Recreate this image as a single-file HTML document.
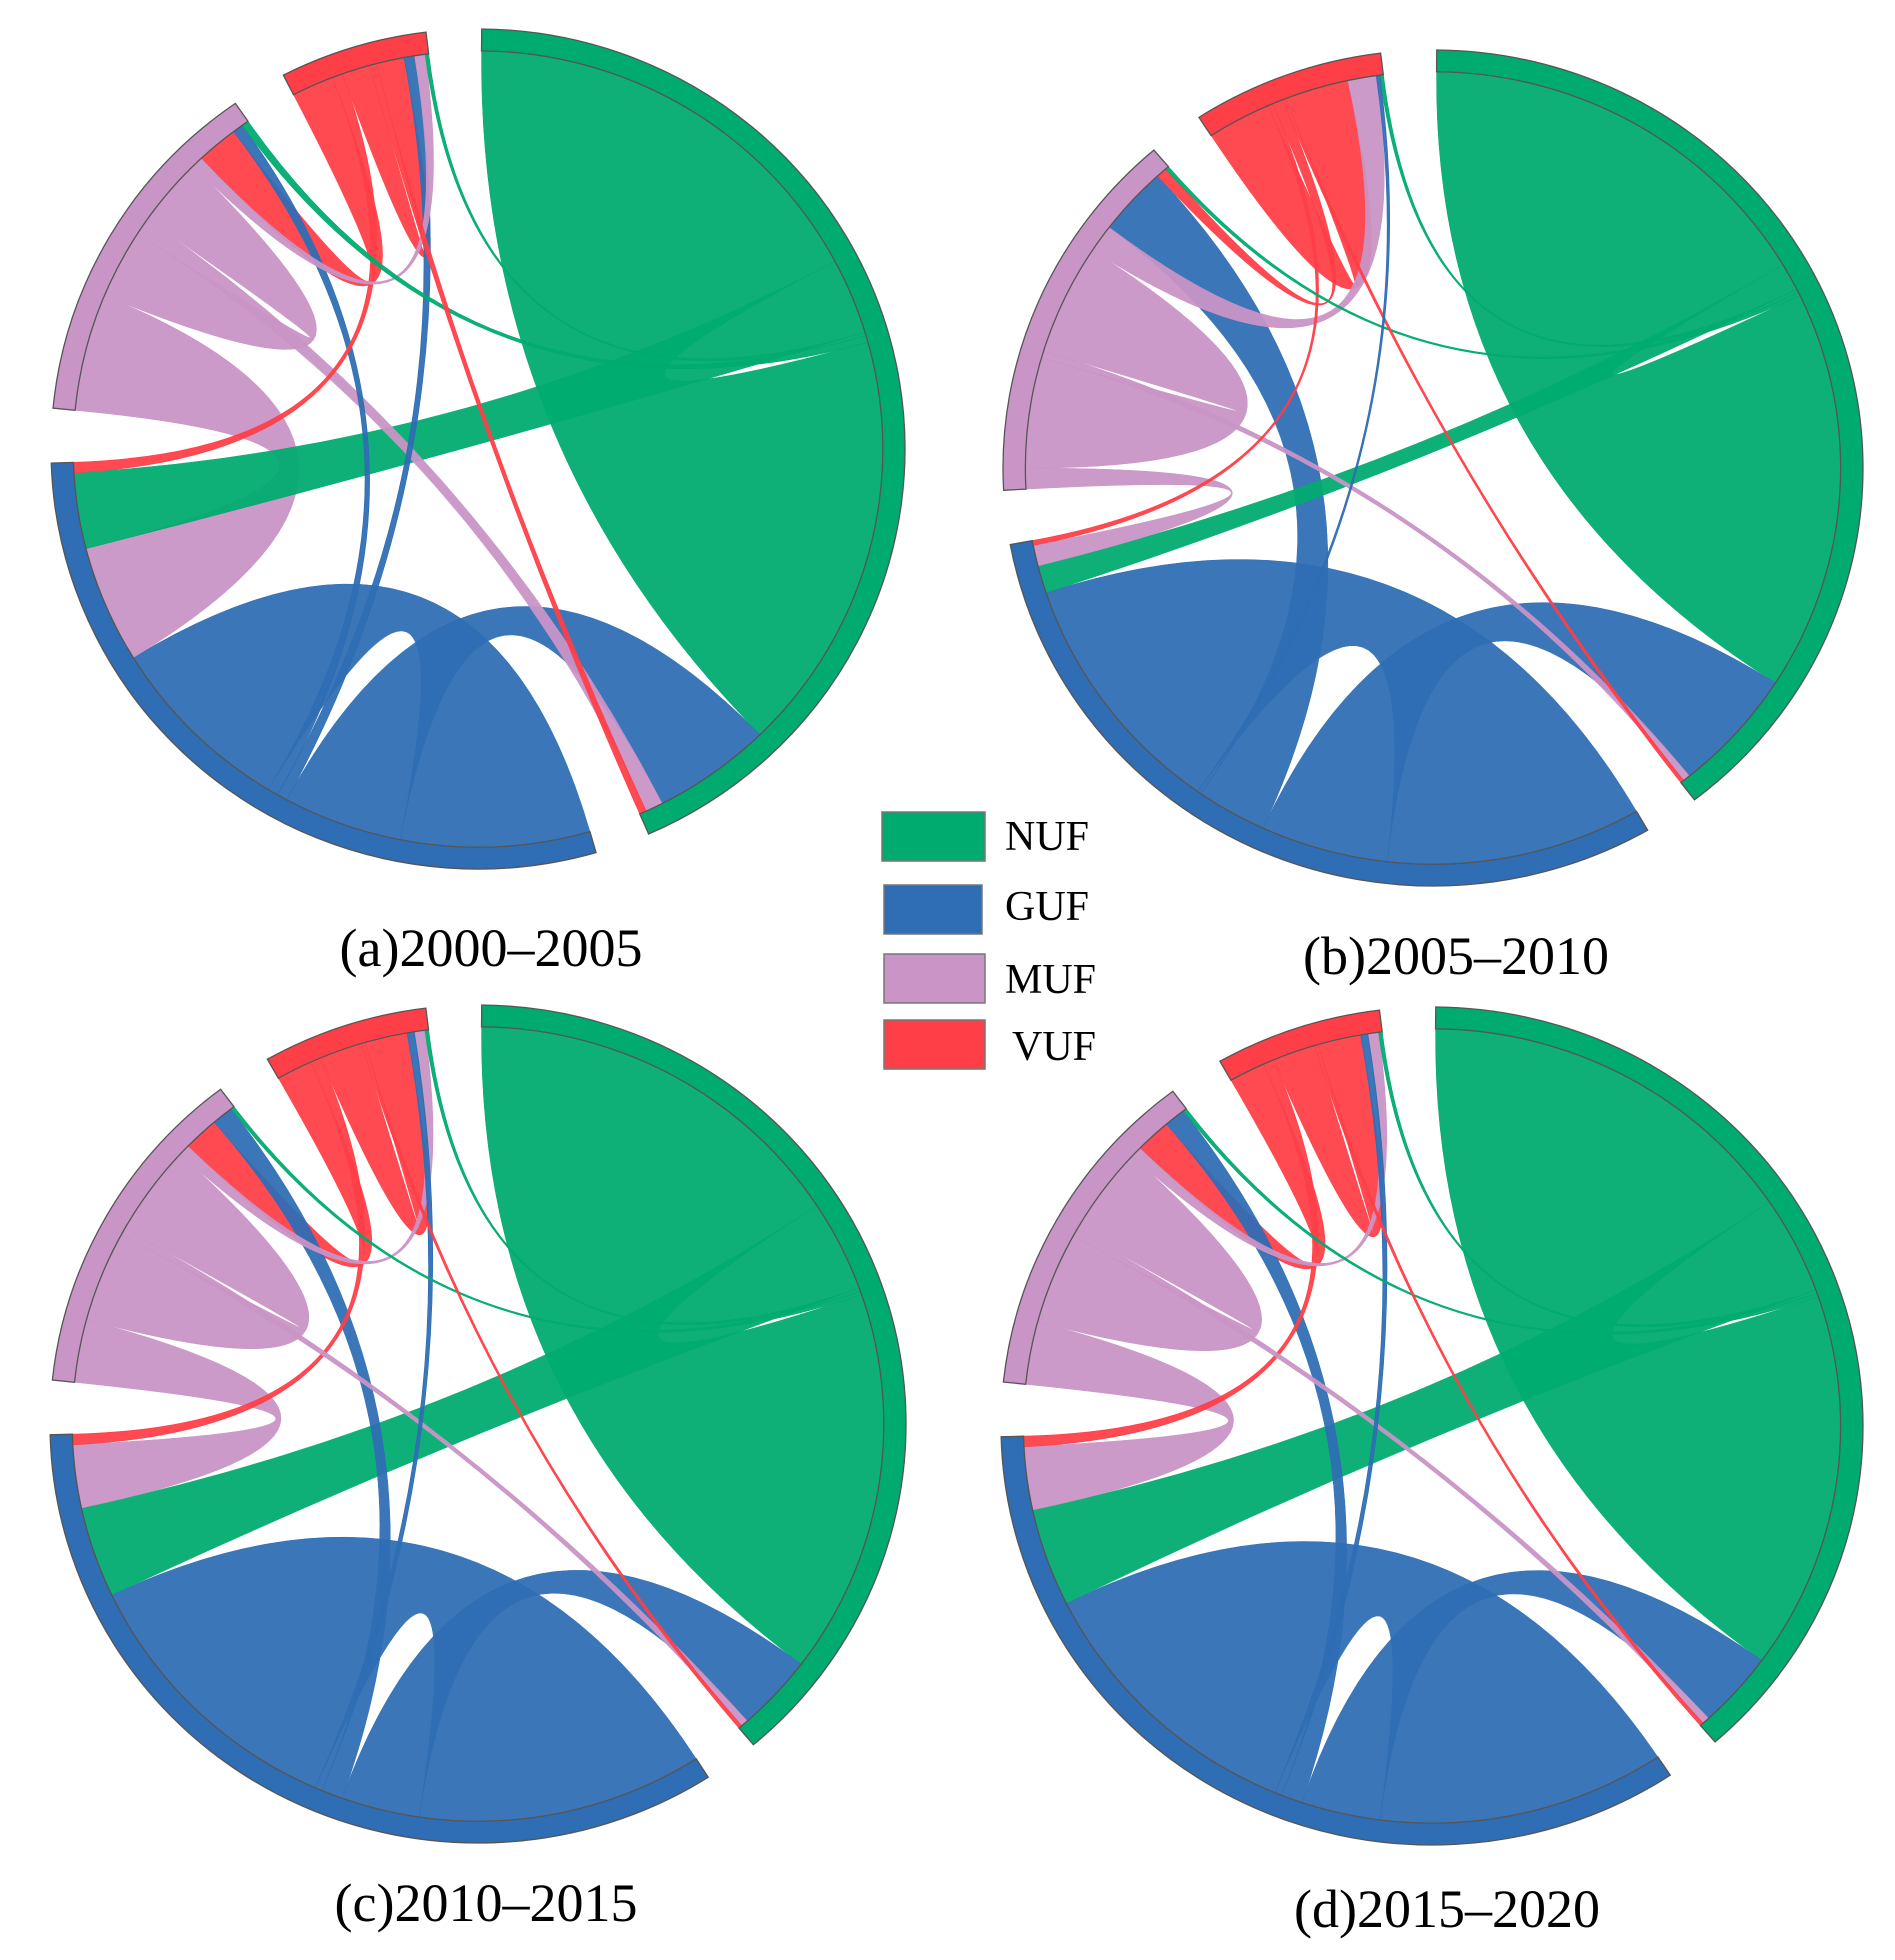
<!DOCTYPE html>
<html><head><meta charset="utf-8"><title>Urban form transitions</title>
<style>
html,body{margin:0;padding:0;background:#fff;}
#wrap{position:relative;width:1895px;height:1960px;overflow:hidden;}
svg{position:absolute;left:0;top:0;}
text{font-family:"Liberation Serif",serif;fill:#000;}
</style></head>
<body>
<div id="wrap">
<svg id="fig" width="1895" height="1960" viewBox="0 0 1895 1960">
  <g id="legend">
    <g>
      <rect x="882" y="812" width="103" height="49" fill="#00ab6f" stroke="#777" stroke-width="1.5"/>
      <text x="1005" y="850" font-size="42">NUF</text>
    </g>
    <g>
      <rect x="884" y="885" width="98" height="49" fill="#2f6db4" stroke="#777" stroke-width="1.5"/>
      <text x="1005" y="920" font-size="42">GUF</text>
    </g>
    <g>
      <rect x="884" y="954" width="101" height="49" fill="#c994c6" stroke="#777" stroke-width="1.5"/>
      <text x="1005" y="993" font-size="42">MUF</text>
    </g>
    <g>
      <rect x="884" y="1020" width="101" height="49" fill="#ff3f47" stroke="#777" stroke-width="1.5"/>
      <text x="1012" y="1060" font-size="42">VUF</text>
    </g>
  </g>
  <text x="491" y="966" font-size="54" text-anchor="middle">(a)2000–2005</text>
  <text x="1456" y="974" font-size="54" text-anchor="middle">(b)2005–2010</text>
  <text x="486" y="1921" font-size="54" text-anchor="middle">(c)2010–2015</text>
  <text x="1447" y="1927" font-size="54" text-anchor="middle">(d)2015–2020</text>
</svg>
</div>
<script>
// ---- data ----
const groups = ["NUF", "GUF", "MUF", "VUF"];
const groupColors = ["#00ab6f", "#2f6db4", "#c994c6", "#ff3f47"];
// links: from group index, to group index (same structure in all periods)
const linkFrom = [0, 0, 0, 0, 1, 2, 3, 1, 1, 1, 2, 3, 2, 2, 3, 3];
const linkTo   = [0, 1, 3, 2, 0, 0, 0, 1, 3, 2, 1, 1, 2, 3, 2, 3];
// transition amounts per period
const valuesA = [61, 11, 0.5, 1, 17, 2.5, 1, 27, 1.5, 1.5, 17, 1.5, 10, 1.5, 6, 4];
const valuesB = [58, 4, 0.5, 0.5, 18, 1, 0.5, 36, 0.5, 10, 3, 0.7, 16, 4, 1.5, 9];
const valuesC = [55, 13, 0.5, 0.5, 11, 1, 0.5, 40, 1, 3, 9, 1.5, 13, 1.5, 5, 6];
const valuesD = [54, 14, 0.5, 0.5, 11, 1, 0.5, 40, 1, 3, 9, 1.5, 13, 1.5, 5, 6];
// order of link ends within each sector (clockwise)
const orderA = [[0,1,2,3,0,4,5,6],[7,4,8,9,7,10,1,11],[10,12,5,12,13,14,9,3],[14,11,15,6,15,8,13,2]];
const orderB = [[0,1,2,3,0,4,5,6],[7,4,9,8,7,1,10,11],[10,12,5,12,13,9,14,3],[15,11,14,6,15,13,8,2]];
const orderC = [[0,1,2,3,0,4,5,6],[7,4,9,8,7,1,10,11],[10,12,5,12,13,14,9,3],[14,11,15,6,15,8,13,2]];
const orderD = [[0,1,2,3,0,4,5,6],[7,4,9,8,7,1,10,11],[10,12,5,12,13,14,9,3],[14,11,15,6,15,8,13,2]];
const panelNames = ["a", "b", "c", "d"];

// ---- layout (not data) ----
const panelGeom = [
  {cx: 478, cy: 449, rx: 427, ry: 420},
  {cx: 1433, cy: 468, rx: 430, ry: 418},
  {cx: 478, cy: 1424, rx: 428, ry: 419},
  {cx: 1432, cy: 1426, rx: 431, ry: 419}
];
const GAP = 7.5, START = 0.5, RIN = 0.948;
const NS = "http://www.w3.org/2000/svg";
const svg = document.getElementById("fig");

function P(r, t) {
  const a = t * Math.PI / 180;
  return (r * Math.sin(a)).toFixed(5) + "," + (-r * Math.cos(a)).toFixed(5);
}
function lg(t1, t2) { return (t2 - t1) > 180 ? 1 : 0; }

function drawPanel(pi, values, order) {
  const geo = panelGeom[pi];
  const g = document.createElementNS(NS, "g");
  g.setAttribute("transform", "translate(" + geo.cx + "," + geo.cy + ") scale(" + geo.rx + "," + geo.ry + ")");
  
  
  svg.appendChild(g);

  let total = 0;
  order.forEach(o => o.forEach(li => total += values[li]));
  const scale = (360 - 4 * GAP) / total;
  const ends = values.map(() => ({src: null, tgt: null}));
  const sectors = [];
  let ang = START;
  order.forEach((o, gi) => {
    const s0 = ang;
    const seen = {};
    o.forEach(li => {
      const w = values[li] * scale;
      const span = [ang, ang + w];
      if (linkFrom[li] === linkTo[li]) {
        if (!seen[li]) { ends[li].src = span; seen[li] = 1; } else ends[li].tgt = span;
      } else if (linkFrom[li] === gi) ends[li].src = span; else ends[li].tgt = span;
      ang += w;
    });
    sectors.push([s0, ang]);
    ang += GAP;
  });

  const idx = values.map((v, i) => i).sort((a, b) => values[b] - values[a]);
  idx.forEach(li => {
    const a = ends[li].src, b = ends[li].tgt;
    if (!a || !b) return;
    const r = RIN;
    const d = "M" + P(r, a[0]) + " A" + r + "," + r + " 0 " + lg(a[0], a[1]) + " 1 " + P(r, a[1]) +
      " Q0,0 " + P(r, b[0]) + " A" + r + "," + r + " 0 " + lg(b[0], b[1]) + " 1 " + P(r, b[1]) +
      " Q0,0 " + P(r, a[0]) + " Z";
    const path = document.createElementNS(NS, "path");
    path.setAttribute("d", d);
    const col = groupColors[linkFrom[li]];
    path.setAttribute("fill", col);
    path.setAttribute("fill-opacity", "0.94");
    path.setAttribute("stroke", col);
    path.setAttribute("stroke-width", values[li] < 2 ? "0.7" : "0.5");
    path.setAttribute("vector-effect", "non-scaling-stroke");
    
    
    g.appendChild(path);
  });

  sectors.forEach((s, gi) => {
    const d = "M" + P(1, s[0]) + " A1,1 0 " + lg(s[0], s[1]) + " 1 " + P(1, s[1]) +
      " L" + P(RIN, s[1]) + " A" + RIN + "," + RIN + " 0 " + lg(s[0], s[1]) + " 0 " + P(RIN, s[0]) + " Z";
    const path = document.createElementNS(NS, "path");
    path.setAttribute("d", d);
    path.setAttribute("fill", groupColors[gi]);
    path.setAttribute("stroke", "#555");
    path.setAttribute("stroke-width", "1.3");
    path.setAttribute("vector-effect", "non-scaling-stroke");
    
    
    g.appendChild(path);
  });
}

drawPanel(0, valuesA, orderA);
drawPanel(1, valuesB, orderB);
drawPanel(2, valuesC, orderC);
drawPanel(3, valuesD, orderD);
svg.appendChild(document.getElementById("legend"));
</script>
</body></html>
